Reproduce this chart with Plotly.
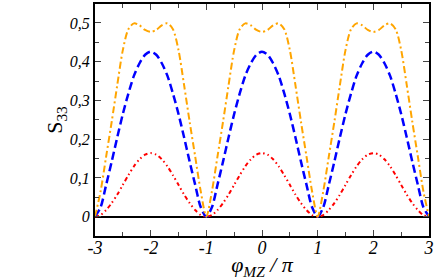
import plotly.graph_objects as go

# phase phi_MZ / pi
phi = [round(-3 + 0.1 * k, 1) for k in range(61)]

# S33 (orange dash-dot)
s_orange = [
    0.0, 0.065, 0.155, 0.245, 0.340, 0.430, 0.484, 0.499, 0.494, 0.482, 0.477,
    0.482, 0.494, 0.499, 0.484, 0.430, 0.340, 0.245, 0.155, 0.065, 0.0,
    0.065, 0.155, 0.245, 0.340, 0.430, 0.484, 0.499, 0.494, 0.482, 0.477,
    0.482, 0.494, 0.499, 0.484, 0.430, 0.340, 0.245, 0.155, 0.065, 0.0,
    0.065, 0.155, 0.245, 0.340, 0.430, 0.484, 0.499, 0.494, 0.482, 0.477,
    0.482, 0.494, 0.499, 0.484, 0.430, 0.340, 0.245, 0.155, 0.065, 0.0,
]
# blue dashed
s_blue = [
    0.0, 0.024, 0.082, 0.142, 0.205, 0.265, 0.318, 0.364, 0.396, 0.418, 0.426,
    0.418, 0.396, 0.364, 0.318, 0.265, 0.205, 0.142, 0.082, 0.024, 0.0,
    0.024, 0.082, 0.142, 0.205, 0.265, 0.318, 0.364, 0.396, 0.418, 0.426,
    0.418, 0.396, 0.364, 0.318, 0.265, 0.205, 0.142, 0.082, 0.024, 0.0,
    0.024, 0.082, 0.142, 0.205, 0.265, 0.318, 0.364, 0.396, 0.418, 0.426,
    0.418, 0.396, 0.364, 0.318, 0.265, 0.205, 0.142, 0.082, 0.024, 0.0,
]
# red dash-dot-dot
s_red = [
    0.0, 0.004, 0.017, 0.035, 0.057, 0.082, 0.107, 0.130, 0.148, 0.160, 0.164,
    0.160, 0.148, 0.130, 0.107, 0.082, 0.057, 0.035, 0.017, 0.004, 0.0,
    0.004, 0.017, 0.035, 0.057, 0.082, 0.107, 0.130, 0.148, 0.160, 0.164,
    0.160, 0.148, 0.130, 0.107, 0.082, 0.057, 0.035, 0.017, 0.004, 0.0,
    0.004, 0.017, 0.035, 0.057, 0.082, 0.107, 0.130, 0.148, 0.160, 0.164,
    0.160, 0.148, 0.130, 0.107, 0.082, 0.057, 0.035, 0.017, 0.004, 0.0,
]

x_ticks = [-3, -2, -1, 0, 1, 2, 3]
x_ticktext = ["-3", "-2", "-1", "0", "1", "2", "3"]
y_ticks = [0, 0.1, 0.2, 0.3, 0.4, 0.5]
y_ticktext = ["0", "0,1", "0,2", "0,3", "0,4", "0,5"]

fig = go.Figure()
fig.add_trace(go.Scatter(x=phi, y=s_red, mode="lines",
                         line=dict(color="#ff0000", width=2, shape="spline", smoothing=0.8,
                                   dash="4px,3px,1.5px,3px,1.5px,3px")))
fig.add_trace(go.Scatter(x=phi, y=s_blue, mode="lines",
                         line=dict(color="#0000ff", width=2.5, shape="spline", smoothing=0.8,
                                   dash="8px,4px")))
fig.add_trace(go.Scatter(x=phi, y=s_orange, mode="lines",
                         line=dict(color="#ffa500", width=2, shape="spline", smoothing=0.8,
                                   dash="7px,3px,2px,3px")))

serif = "Liberation Serif, Times New Roman, serif"
fig.update_layout(
    width=436, height=280,
    margin=dict(l=95, r=7, t=2, b=44),
    paper_bgcolor="white", plot_bgcolor="white",
    showlegend=False,
    font=dict(family=serif, color="black"),
    xaxis=dict(
        range=[-3, 3], tickvals=x_ticks, ticktext=x_ticktext,
        showgrid=False, zeroline=False,
        showline=True, linecolor="black", linewidth=2, mirror="ticks",
        ticks="inside", ticklen=6, tickwidth=1, tickcolor="#444",
        minor=dict(ticks="inside", ticklen=4, tickwidth=1, tickcolor="#444", dtick=0.5, tick0=0),
        tickfont=dict(family=serif, size=18, color="black", style="italic"),
        ticklabelstandoff=-6,
        title=dict(text="<i>φ</i><sub><i>MZ</i></sub><i> / π</i>",
                   font=dict(family=serif, size=22, color="black"), standoff=0),
    ),
    yaxis=dict(
        range=[-0.05, 0.549], tickvals=y_ticks, ticktext=y_ticktext,
        showgrid=False, zeroline=True, zerolinecolor="black", zerolinewidth=2,
        showline=True, linecolor="black", linewidth=2, mirror="ticks",
        ticks="inside", ticklen=6, tickwidth=1, tickcolor="#444",
        minor=dict(ticks="inside", ticklen=4, tickwidth=1, tickcolor="#444", dtick=0.05, tick0=0),
        tickfont=dict(family=serif, size=16, color="black", style="italic"),
        title=dict(text="S<sub>33</sub>",
                   font=dict(family=serif, size=22, color="black"), standoff=0),
    ),
)

fig.write_html("out.html", config={"displayModeBar": False},
               post_script="document.body.style.margin='0';document.body.style.padding='0';")
